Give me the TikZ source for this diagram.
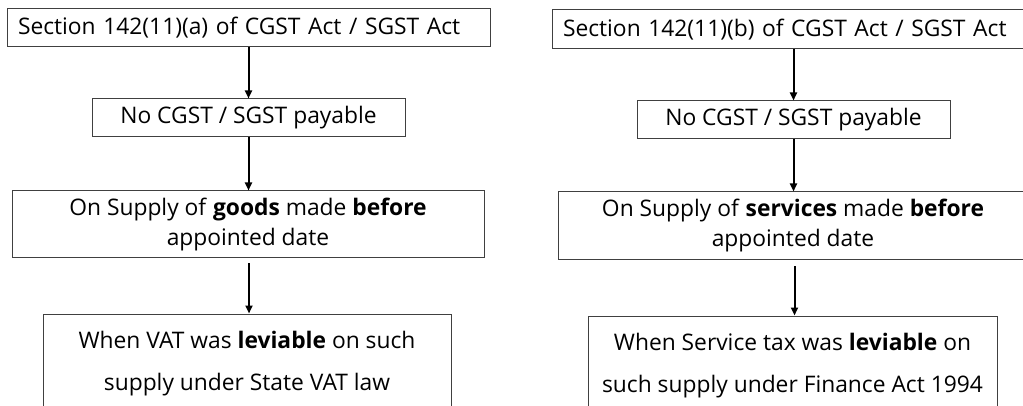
\documentclass[tikz,border=0pt]{standalone}
\usepackage{fontspec}
\setmainfont{Open Sans}
\usetikzlibrary{arrows.meta}
\begin{document}
\begin{tikzpicture}[x=1pt,y=-1pt,
  box/.style={draw=black!75, line width=1pt, rectangle, inner sep=0pt, align=center,
    font=\fontsize{22.8}{30}\selectfont},
  lowbox/.style={box, font=\fontsize{22.8}{42}\selectfont},
  headbox/.style={box, align=left, inner xsep=11pt, text width=461pt, minimum height=38pt},
  conn/.style={line width=2pt, -{Triangle[length=8pt,width=7pt]}}]
\useasboundingbox (0,0) rectangle (1023,406);
\clip (0,0) rectangle (1023,406);
% left column
\node[headbox] (a1) at (248.5,28) {Section 142(11)(a) of CGST Act / SGST Act};
\node[box, minimum width=313pt, minimum height=38pt] (a2) at (248.5,118) {No CGST / SGST payable};
\node[box, minimum width=472pt, minimum height=67pt] (a3) at (248,224.5) {On Supply of \textbf{goods} made \textbf{before}\\appointed date};
\node[lowbox, minimum width=408pt, minimum height=100pt] (a4) at (247,364) {When VAT was \textbf{leviable} on such\\supply under State VAT law};
\draw[conn] (a1.south -| a2.north) -- (a2.north);
\draw[conn] (a2.south) -- (a2.south |- a3.north);
\draw[conn, shorten <=5pt] (a3.south -| a4.north) ++(2,0) -- ([xshift=2pt]a4.north);
% right column
\node[headbox, minimum height=39pt] (b1) at (793.5,29.5) {Section 142(11)(b) of CGST Act / SGST Act};
\node[box, minimum width=313pt, minimum height=38pt] (b2) at (793.5,120) {No CGST / SGST payable};
\node[box, minimum width=470pt, minimum height=68pt] (b3) at (793,226) {On Supply of \textbf{services} made \textbf{before}\\appointed date};
\node[lowbox, minimum width=409pt, minimum height=100pt] (b4) at (792.5,366) {When Service tax was \textbf{leviable} on\\such supply under Finance Act 1994};
\draw[conn] (b1.south -| b2.north) -- (b2.north);
\draw[conn] (b2.south) -- (b2.south |- b3.north);
\draw[conn, shorten <=6pt] (b3.south -| b4.north) ++(2,0) -- ([xshift=2pt]b4.north);
\end{tikzpicture}
\end{document}
